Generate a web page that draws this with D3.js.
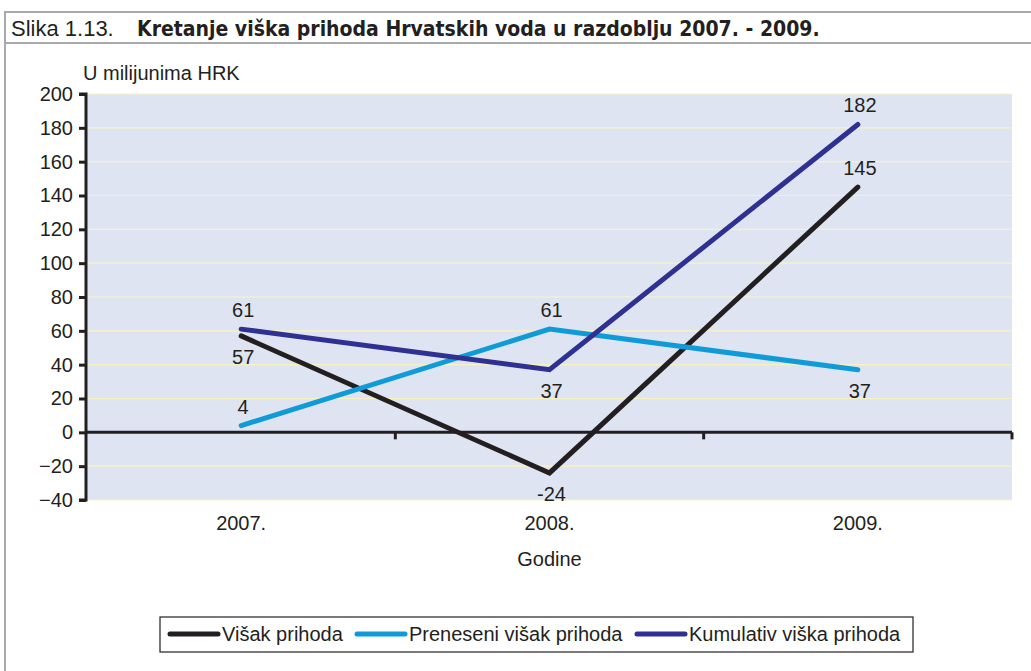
<!DOCTYPE html>
<html>
<head>
<meta charset="utf-8">
<script src="https://cdn.jsdelivr.net/npm/d3@7"></script>
<style>
  html, body { margin: 0; padding: 0; background: #fff; }
  svg { display: block; }
  text { font-family: "Liberation Sans Narrow", "Arial Narrow", "Liberation Sans", sans-serif; fill: #231f20; }
</style>
</head>
<body>
<div id="chart"></div>
<script>
const years = ['2007.', '2008.', '2009.'];
const visak = [57, -24, 145];
const preneseni = [4, 61, 37];
const kumulativ = [61, 37, 182];
const yTicks = [-40, -20, 0, 20, 40, 60, 80, 100, 120, 140, 160, 180, 200];

const series = [
  { name: 'Višak prihoda', values: visak, color: '#231f20', labelPos: ['below', 'below', 'above'] },
  { name: 'Preneseni višak prihoda', values: preneseni, color: '#0f9bd7', labelPos: ['above', 'above', 'below'] },
  { name: 'Kumulativ viška prihoda', values: kumulativ, color: '#2e3192', labelPos: ['above', 'below', 'above'] }
];

const W = 1031, H = 671;
const svg = d3.select('#chart').append('svg').attr('width', W).attr('height', H);

// frame
svg.append('line').attr('x1', 4).attr('x2', W).attr('y1', 12).attr('y2', 12).attr('stroke', '#a7a9ac').attr('stroke-width', 2);
svg.append('line').attr('x1', 4).attr('x2', W).attr('y1', 43).attr('y2', 43).attr('stroke', '#a7a9ac').attr('stroke-width', 2);
svg.append('line').attr('x1', 5).attr('x2', 5).attr('y1', 11).attr('y2', H).attr('stroke', '#a7a9ac').attr('stroke-width', 2);

svg.append('text').attr('x', 11).attr('y', 36).style('font-size', '22px')
  .style('font-family', '"Liberation Sans", sans-serif').text('Slika 1.13.');
svg.append('text').attr('x', 137).attr('y', 36).style('font-size', '21px')
  .style('font-family', '"DejaVu Sans Condensed", "Liberation Sans", sans-serif')
  .style('font-weight', 'bold').text('Kretanje viška prihoda Hrvatskih voda u razdoblju 2007. - 2009.');

const plot = { left: 87, right: 1012, top: 94, bottom: 500 };

const x = d3.scaleBand().domain(years).range([plot.left, plot.right]);
const y = d3.scaleLinear().domain([-40, 200]).range([plot.bottom, plot.top]);

svg.append('rect')
  .attr('x', plot.left).attr('y', plot.top)
  .attr('width', plot.right - plot.left).attr('height', plot.bottom - plot.top)
  .attr('fill', '#dfe4f2');

svg.append('g').selectAll('line').data(yTicks).join('line')
  .attr('x1', plot.left).attr('x2', plot.right)
  .attr('y1', d => y(d)).attr('y2', d => y(d))
  .attr('stroke', '#f7f3c0').attr('stroke-width', 1.2);

// y axis
const yAxis = svg.append('g').attr('transform', `translate(${plot.left - 1},0)`)
  .call(d3.axisLeft(y).tickValues(yTicks).tickSize(7).tickPadding(6));
yAxis.select('.domain').attr('stroke', '#231f20').attr('stroke-width', 3).attr('d', `M-7,${y(200)}H0V${y(-40)}H-7`);
yAxis.selectAll('.tick line').attr('stroke', '#231f20').attr('stroke-width', 3);
yAxis.selectAll('.tick text').style('font-size', '20px').attr('fill', '#231f20')
  .style('font-family', '"Liberation Sans Narrow", "Arial Narrow", sans-serif');

// x axis at zero
const xAxis = svg.append('g').attr('transform', `translate(0,${y(0)})`)
  .call(d3.axisBottom(x).tickSize(0).tickFormat(''));
xAxis.select('.domain').attr('stroke', '#231f20').attr('stroke-width', 3)
  .attr('d', `M${plot.left},0H${plot.right}`);
xAxis.selectAll('.tick').remove();
xAxis.selectAll('.bound').data(years).join('line')
  .attr('x1', d => x(d) + x.bandwidth()).attr('x2', d => x(d) + x.bandwidth())
  .attr('y1', 0).attr('y2', 7)
  .attr('stroke', '#231f20').attr('stroke-width', 3);

// category labels below plot
svg.append('g').selectAll('text').data(years).join('text')
  .attr('x', d => x(d) + x.bandwidth() / 2).attr('y', 530)
  .attr('text-anchor', 'middle').style('font-size', '20px').text(d => d);

svg.append('text').attr('x', 83).attr('y', 80).style('font-size', '20px').text('U milijunima HRK');
svg.append('text').attr('x', x('2008.') + x.bandwidth() / 2).attr('y', 566)
  .attr('text-anchor', 'middle').style('font-size', '20px').text('Godine');

const cx = d => x(d) + x.bandwidth() / 2;
const line = d3.line().x((d, i) => cx(years[i])).y(d => y(d));

series.forEach(s => {
  svg.append('path').datum(s.values)
    .attr('d', line).attr('fill', 'none')
    .attr('stroke', s.color).attr('stroke-width', 5)
    .attr('stroke-linecap', 'round').attr('stroke-linejoin', 'miter');
});

series.forEach(s => {
  svg.append('g').selectAll('text').data(s.values).join('text')
    .attr('x', (d, i) => cx(years[i]) + 2)
    .attr('y', (d, i) => s.labelPos[i] === 'above' ? y(d) - 12 : y(d) + 28)
    .attr('text-anchor', 'middle').style('font-size', '20px')
    .text(d => d);
});

// legend
const lg = svg.append('g');
lg.append('rect').attr('x', 160).attr('y', 617).attr('width', 753).attr('height', 35)
  .attr('fill', '#fff').attr('stroke', '#231f20').attr('stroke-width', 1.2);
const legendX = [170, 357, 637];
series.forEach((s, i) => {
  lg.append('line').attr('x1', legendX[i]).attr('x2', legendX[i] + 48)
    .attr('y1', 634).attr('y2', 634).attr('stroke', s.color).attr('stroke-width', 5).attr('stroke-linecap', 'round');
  lg.append('text').attr('x', legendX[i] + 52).attr('y', 641).style('font-size', '20px').text(s.name);
});
</script>
</body>
</html>
